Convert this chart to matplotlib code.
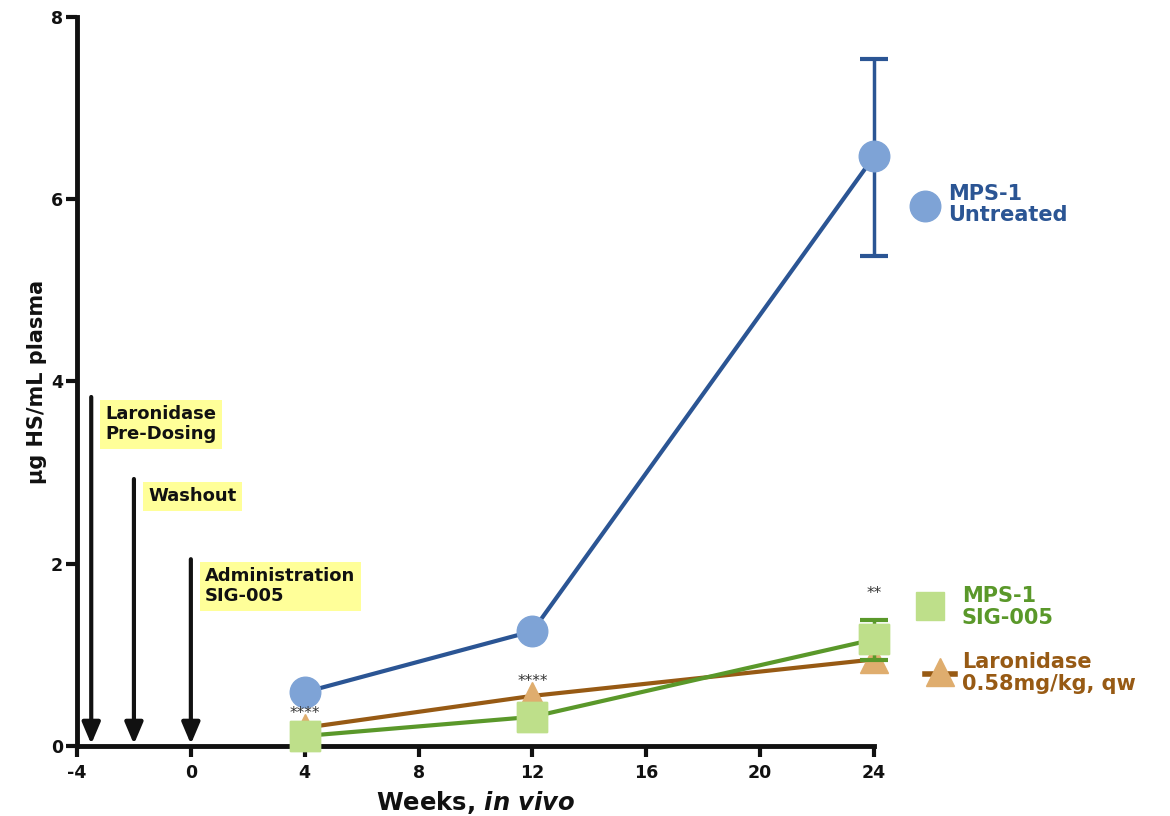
import matplotlib
matplotlib.use("Agg")
import matplotlib.pyplot as plt

# ---- data ----
weeks = [4, 12, 24]
untreated = [0.59, 1.26, 6.47]
untreated_err_lo = [0, 0, 1.09]
untreated_err_hi = [0, 0, 1.07]
sig005 = [0.11, 0.32, 1.17]
sig005_err_lo = [0, 0, 0.23]
sig005_err_hi = [0, 0, 0.21]
laronidase = [0.20, 0.55, 0.95]

stars_x = [4, 12, 24]
stars_y = [0.36, 0.71, 1.67]
stars_txt = ["****", "****", "**"]

arrow_x = [-3.5, -2, 0]
arrow_top = [3.83, 2.93, 2.05]
arrow_labels = ["Laronidase\nPre-Dosing", "Washout", "Administration\nSIG-005"]

xticks = [-4, 0, 4, 8, 12, 16, 20, 24]
yticks = [0, 2, 4, 6, 8]

plt.rcParams['font.family'] = ['DejaVu Sans']
plt.rcParams['axes.unicode_minus'] = False
plt.rcParams['mathtext.fontset'] = 'custom'
plt.rcParams['mathtext.it'] = 'DejaVu Sans:italic:bold'
plt.rcParams['mathtext.rm'] = 'DejaVu Sans:bold'

fig = plt.figure(figsize=(11.7, 8.16), dpi=100)
ax = fig.add_axes([77/1170, 70/816, 797/1170, 729/816])

blue_line, blue_fill = "#2B5594", "#7EA3D6"
green_line, green_fill = "#5A982A", "#BEDF8A"
brown_line, brown_fill = "#975A14", "#DFAD6E"

ax.errorbar(weeks, untreated, yerr=[untreated_err_lo, untreated_err_hi], color=blue_line,
            lw=3, capsize=10, capthick=3, elinewidth=2.5, marker='o', ms=22,
            mfc=blue_fill, mec=blue_fill, clip_on=False, zorder=3)
ax.errorbar(weeks, sig005, yerr=[sig005_err_lo, sig005_err_hi], color=green_line,
            lw=3, capsize=10, capthick=3, elinewidth=2.5, marker='s', ms=21,
            mfc=green_fill, mec=green_fill, clip_on=False, zorder=4)
ax.plot(weeks, laronidase, color=brown_line, lw=3, marker='^', ms=20,
        mfc=brown_fill, mec=brown_fill, clip_on=False, zorder=3)
# redraw squares on top of triangles
ax.plot(weeks, sig005, ls='none', marker='s', ms=21, mfc=green_fill, mec=green_fill,
        clip_on=False, zorder=5)

for x, y, t in zip(stars_x, stars_y, stars_txt):
    ax.text(x, y, t, ha='center', va='center', fontsize=11, color='#333333', zorder=6)

for x, top, lab in zip(arrow_x, arrow_top, arrow_labels):
    ax.annotate("", xy=(x, 0.02), xytext=(x, top),
                arrowprops=dict(arrowstyle='-|>,head_width=0.55,head_length=1.3',
                                color='#111111', lw=3, shrinkA=0, shrinkB=0), zorder=6)
    ax.text(x + 0.5, top - 0.09, lab, ha='left', va='top', fontsize=13,
            fontweight='bold', color='#111111', linespacing=1.15,
            bbox=dict(boxstyle='square,pad=0.3', fc='#FFFF99', ec='none'))

ax.set_xlim(-4, 24)
ax.set_ylim(0, 8)
ax.set_xticks(xticks)
ax.set_yticks(yticks)
ax.tick_params(axis='both', direction='out', width=3, length=8, labelsize=12.5,
               color='#111111', labelcolor='#111111')
ax.tick_params(axis='y', pad=2)
ax.tick_params(axis='x', pad=5)
for lab in ax.get_xticklabels() + ax.get_yticklabels():
    lab.set_fontweight('bold')
for s in ['top', 'right']:
    ax.spines[s].set_visible(False)
for s in ['left', 'bottom']:
    ax.spines[s].set_linewidth(3.5)
    ax.spines[s].set_color('#111111')

ax.set_ylabel("µg HS/mL plasma", fontsize=15, fontweight='bold', color='#111111', labelpad=3)
ax.set_xlabel(r"Weeks, $\mathit{in\ vivo}$", fontsize=17.5, fontweight='bold',
              color='#111111', labelpad=5)

# legend (Prism-style labels at right)
tr = ax.transAxes
ax.plot([1.064], [0.741], marker='o', ms=22, mfc=blue_fill, mec=blue_fill, transform=tr, clip_on=False)
ax.text(1.093, 0.743, "MPS-1\nUntreated", transform=tr, ha='left', va='center', fontsize=15,
        fontweight='bold', color=blue_line, linespacing=1.1)
ax.plot([1.070], [0.192], marker='s', ms=20, mfc=green_fill, mec=green_fill, transform=tr, clip_on=False)
ax.text(1.110, 0.191, "MPS-1\nSIG-005", transform=tr, ha='left', va='center', fontsize=15,
        fontweight='bold', color=green_line, linespacing=1.1)
ax.plot([1.064, 1.102], [0.099, 0.099], color=brown_line, lw=4, transform=tr, clip_on=False)
ax.plot([1.083], [0.101], marker='^', ms=20, mfc=brown_fill, mec=brown_fill, transform=tr, clip_on=False)
ax.text(1.110, 0.100, "Laronidase\n0.58mg/kg, qw", transform=tr, ha='left', va='center', fontsize=15,
        fontweight='bold', color=brown_line, linespacing=1.1)

fig.savefig("out.png", dpi=100)
